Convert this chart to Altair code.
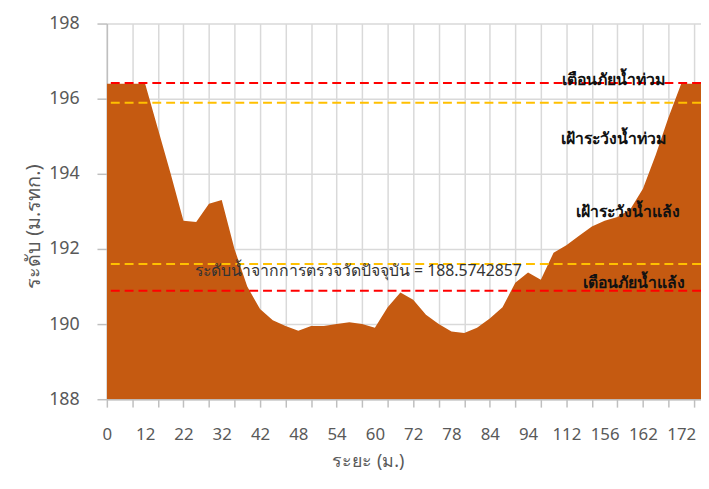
import altair as alt
import pandas as pd

# ground elevation per cross-section point (m. MSL), category index 0..47
elevations = [196.4, 196.4, 196.4, 196.4, 195.2, 194.0, 192.75, 192.72, 193.2, 193.3,
              192.0, 191.0, 190.4, 190.1, 189.95, 189.82, 189.95, 189.95, 190.0, 190.05,
              190.0, 189.9, 190.45, 190.84, 190.65, 190.25, 190.0, 189.8, 189.76, 189.9,
              190.15, 190.45, 191.1, 191.37, 191.18, 191.9, 192.1, 192.35, 192.6, 192.75,
              192.85, 193.05, 193.6, 194.5, 195.5, 196.4, 196.4, 196.4]
# distance labels shown every third point
tick_labels = ["0", "12", "22", "32", "42", "48", "54", "60", "72", "78", "84", "94",
               "112", "156", "162", "172"]

# reference levels
level_names = ["เตือนภัยน้ำท่วม", "เฝ้าระวังน้ำท่วม", "เฝ้าระวังน้ำแล้ง", "เตือนภัยน้ำแล้ง"]
level_values = [196.42, 195.89, 191.6, 190.89]
level_colors = ["#ff0000", "#ffc000", "#ffc000", "#ff0000"]

# text annotations (x index, y value)
note_texts = ["เตือนภัยน้ำท่วม", "เฝ้าระวังน้ำท่วม", "เฝ้าระวังน้ำแล้ง", "เตือนภัยน้ำแล้ง"]
note_x = [39.7, 39.7, 40.8, 41.3]
note_y = [196.5, 194.92, 192.97, 191.1]
center_text = ["ระดับน้ำจากการตรวจวัดปัจจุบัน = 188.5742857"]
center_x = [6.9]
center_y = [191.42]

ground = pd.DataFrame({"i": list(range(len(elevations))), "z": elevations})
levels = pd.DataFrame({"name": level_names, "v": level_values, "c": level_colors})
notes = pd.DataFrame({"t": note_texts, "x": note_x, "y": note_y})
cnote = pd.DataFrame({"t": center_text, "x": center_x, "y": center_y})

labels_js = "[" + ",".join("'" + s + "'" for s in tick_labels) + "]"
FONT = "Noto Sans"

xscale = alt.Scale(domain=[0, 46.55], nice=False, zero=False)
yscale = alt.Scale(domain=[188, 198], nice=False, zero=False)

x_axis = alt.Axis(
    values=list(range(47)), tickCount=200,
    labelExpr=f"datum.value % 3 == 0 ? {labels_js}[datum.value / 3] : ''",
    labelOverlap=False, labelFlush=False, labelBound=False,
    tickOpacity=alt.condition("datum.value % 2 == 0", alt.value(1), alt.value(0)),
    gridOpacity=alt.condition("datum.value % 2 == 0", alt.value(1), alt.value(0)),
    grid=True, gridColor="#d9d9d9", gridWidth=1.5,
    tickColor="#bfbfbf", tickSize=8, tickWidth=1.5,
    domainColor="#bfbfbf", domainWidth=1.5,
    labelColor="#595959", labelFontSize=17, labelFont=FONT, labelPadding=20,
    title="ระยะ (ม.)", titleFont=FONT, titleFontSize=18, titleFontWeight="normal",
    titleColor="#595959", titlePadding=10, titleX=264,
)
y_axis = alt.Axis(
    values=[188, 190, 192, 194, 196, 198], format="d", tickCount=200,
    grid=True, gridColor="#d9d9d9", gridWidth=1.5,
    tickColor="#bfbfbf", tickSize=10, tickWidth=1.5,
    domainColor="#bfbfbf", domainWidth=1.5,
    labelColor="#595959", labelFontSize=18, labelFont=FONT, labelPadding=18,
    title="ระดับ (ม.รทก.)", titleFont=FONT, titleFontSize=20, titleFontWeight="normal",
    titleColor="#595959", titlePadding=5, titleY=205,
)

area = alt.Chart(ground).mark_area(color="#c55a11", clip=True, opacity=1).encode(
    x=alt.X("i:Q", scale=xscale, axis=x_axis),
    y=alt.Y("z:Q", scale=yscale, axis=y_axis),
    y2=alt.datum(188),
)

rules = alt.Chart(levels).mark_rule(strokeWidth=2, strokeDash=[9, 5]).encode(
    y=alt.Y("v:Q", scale=yscale),
    color=alt.Color("c:N", scale=None),
)

texts_c = alt.Chart(notes).mark_text(font=FONT, fontSize=16, fontWeight="bold", color="#111111",
                                     baseline="middle", align="center").encode(
    x=alt.X("x:Q", scale=xscale),
    y=alt.Y("y:Q", scale=yscale),
    text="t:N",
)
texts_l = alt.Chart(cnote).mark_text(font=FONT, fontSize=16, color="#333333",
                                     baseline="middle", align="left").encode(
    x=alt.X("x:Q", scale=xscale),
    y=alt.Y("y:Q", scale=yscale),
    text="t:N",
)

chart = alt.layer(area, rules, texts_c, texts_l).properties(
    width=601, height=380,
    background="white",
    autosize=alt.AutoSizeParams(type="none"),
    padding={"left": 100, "top": 13, "right": 0, "bottom": 80},
).configure_view(stroke=None)

chart.save("out.html", embed_options={"renderer": "svg", "actions": False})
